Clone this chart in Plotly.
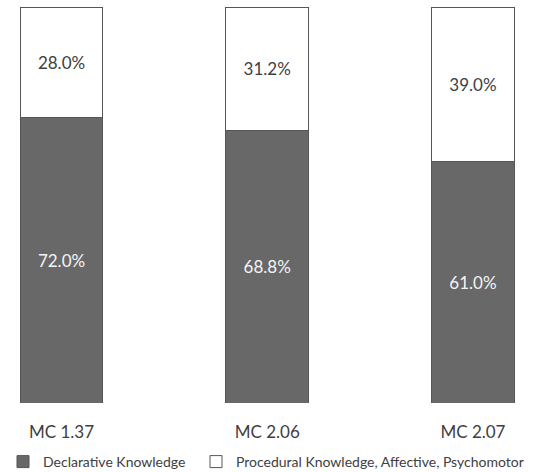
import plotly.graph_objects as go

categories = ["MC 1.37", "MC 2.06", "MC 2.07"]
declarative = [72.0, 68.8, 61.0]
procedural = [28.0, 31.2, 39.0]
series_names = ["Declarative Knowledge", "Procedural Knowledge, Affective, Psychomotor"]

xpos = list(range(len(categories)))
FONT = "Lato"
W, H = 547, 472

fig = go.Figure()
fig.add_trace(go.Bar(
    x=xpos, y=declarative, name=series_names[0], legend="legend",
    marker=dict(color="#686868", line=dict(color="#555555", width=1)),
    text=[f"{v:.1f}%" for v in declarative], textposition="inside",
    insidetextanchor="middle",
    textfont=dict(color="#f4f4f4", size=17, family=FONT),
    width=0.403, hoverinfo="skip",
))
fig.add_trace(go.Bar(
    x=xpos, y=procedural, name=series_names[1], legend="legend2",
    marker=dict(color="#ffffff", line=dict(color="#555555", width=1)),
    text=[f"{v:.1f}%" for v in procedural], textposition="inside",
    insidetextanchor="middle",
    textfont=dict(color="#404040", size=17, family=FONT),
    width=0.403, hoverinfo="skip",
))

leg_common = dict(
    orientation="h", xanchor="left", y=-0.149, yanchor="middle",
    font=dict(size=14, color="#404040", family=FONT),
    itemwidth=30, bgcolor="rgba(0,0,0,0)",
)

fig.update_layout(
    barmode="stack",
    width=W, height=H,
    margin=dict(l=0, r=0, t=7, b=69, autoexpand=False),
    paper_bgcolor="white", plot_bgcolor="white",
    font=dict(family=FONT, color="#404040"),
    xaxis=dict(
        tickmode="array", tickvals=xpos, ticktext=categories,
        range=[-0.299, 2.360], showgrid=False, zeroline=False, showline=False,
        ticks="outside", ticklen=14, tickcolor="rgba(0,0,0,0)",
        tickfont=dict(size=17, color="#404040", family=FONT),
    ),
    yaxis=dict(range=[0, 100], visible=False),
    showlegend=True,
    legend=dict(x=3 / W, **leg_common),
    legend2=dict(x=196 / W, **leg_common),
)

fig.write_html("out.html", config={"displayModeBar": False},
               post_script="document.body.style.margin='0';")
